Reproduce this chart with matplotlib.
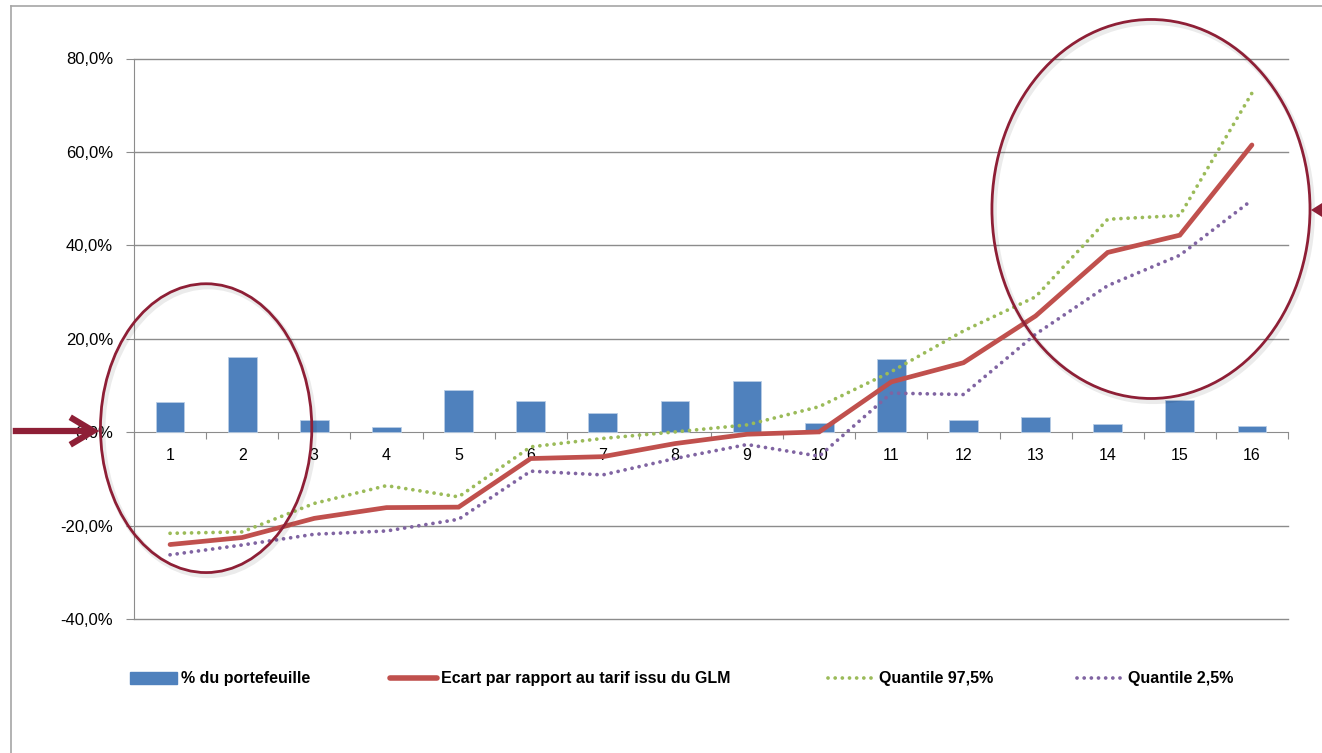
import numpy as np
import matplotlib.pyplot as plt
from matplotlib.patches import Ellipse, FancyArrowPatch, Polygon
from matplotlib.lines import Line2D
from matplotlib.ticker import FixedLocator, FuncFormatter

plt.rcParams["font.family"] = ["Liberation Sans", "DejaVu Sans"]

# --- data (values in %) ---
categories = list(range(1, 17))
portefeuille = [6.4, 16.1, 2.6, 1.2, 9.0, 6.7, 4.1, 6.8, 11.0, 2.1, 15.7, 2.6, 3.3, 1.8, 6.9, 1.3]
ecart_glm = [-24.0, -22.5, -18.4, -16.1, -16.0, -5.6, -5.2, -2.4, -0.4, 0.1, 10.8, 14.9, 24.9, 38.5, 42.2, 61.5]
quantile_975 = [-21.6, -21.3, -15.2, -11.4, -13.8, -3.1, -1.3, 0.1, 1.6, 5.5, 13.0, 21.7, 29.0, 45.6, 46.4, 72.6]
quantile_025 = [-26.2, -24.1, -21.8, -21.1, -18.6, -8.3, -9.1, -5.6, -2.6, -5.1, 8.4, 8.1, 21.0, 31.4, 37.9, 49.7]
y_ticks = [-40, -20, 0, 20, 40, 60, 80]

legend_labels = ["% du portefeuille", "Ecart par rapport au tarif issu du GLM",
                 "Quantile 97,5%", "Quantile 2,5%"]

BLUE = "#4F81BD"
RED = "#C0504D"
GREEN = "#9BBB59"
PURPLE = "#8064A2"
GRID = "#8C8C8C"
MARK = "#8E1F36"

W, H = 1322, 753
fig = plt.figure(figsize=(W / 100, H / 100), dpi=100)
ax = fig.add_axes([134 / W, (H - 619.3) / H, (1288 - 134) / W, (619.3 - 58.5) / H])

x = np.array(categories)
ax.bar(x, portefeuille, width=0.4, color=BLUE, edgecolor="#B9CDE5", linewidth=0.6, zorder=2)

dot = (0, (0.01, 1.9))
ax.plot(x, quantile_975, color=GREEN, lw=2.7, linestyle=dot, dash_capstyle="round", zorder=3)
ax.plot(x, quantile_025, color=PURPLE, lw=2.7, linestyle=dot, dash_capstyle="round", zorder=3)
ax.plot(x, ecart_glm, color=RED, lw=3.4, solid_joinstyle="miter", solid_capstyle="round", zorder=4)

ax.set_xlim(0.5, 16.5)
ax.set_ylim(-40, 80)

# horizontal gridlines
for v in y_ticks:
    if v != 0:
        ax.axhline(v, color=GRID, lw=1.0, zorder=1, clip_on=False)

for side in ("top", "right"):
    ax.spines[side].set_visible(False)
ax.spines["left"].set_color(GRID)
ax.spines["bottom"].set_position(("data", 0))
ax.spines["bottom"].set_color(GRID)
ax.spines["bottom"].set_zorder(1)

ax.yaxis.set_major_locator(FixedLocator(y_ticks))
ax.yaxis.set_major_formatter(FuncFormatter(lambda v, p: f"{v:.1f}%".replace(".", ",")))
ax.tick_params(axis="y", length=6, color=GRID, pad=9, labelsize=12, labelcolor="#000000")

# category boundaries as ticks, category numbers as labels
ax.xaxis.set_major_locator(FixedLocator(np.arange(0.5, 17, 1.0)))
ax.xaxis.set_major_formatter(FuncFormatter(lambda v, p: ""))
ax.xaxis.set_minor_locator(FixedLocator(x))
ax.xaxis.set_minor_formatter(FuncFormatter(lambda v, p: f"{int(v)}"))
ax.tick_params(axis="x", which="major", length=5, color=GRID, direction="out")
ax.tick_params(axis="x", which="minor", length=0, pad=11, labelsize=11.5)

# highlighted zones
for cx, cy, w, h in [(1.5, 0.9, 2.93, 61.8), (14.6, 47.8, 4.41, 81.1)]:
    ax.add_patch(Ellipse((cx + 0.03, cy - 0.6), w, h, fill=False, edgecolor="#000000",
                         lw=4, alpha=0.08, clip_on=False, zorder=5))
    ax.add_patch(Ellipse((cx, cy), w, h, fill=False, edgecolor=MARK, lw=2.0,
                         clip_on=False, zorder=6))

# arrows pointing at the zero line and the top zone (pixel positions, inches = px / 100)
px = fig.dpi_scale_trans
fig.patches.append(FancyArrowPatch((10 / 100, (H - 431) / 100), (102 / 100, (H - 431) / 100),
                                   transform=px, arrowstyle="->,head_length=7.5,head_width=4.5",
                                   color=MARK, lw=4.5, mutation_scale=2.2,
                                   capstyle="butt", joinstyle="miter", zorder=7))
fig.patches.append(Polygon([(13.11, (H - 210) / 100), (13.30, (H - 198) / 100),
                            (13.30, (H - 222) / 100)], closed=True, transform=px,
                           facecolor=MARK, edgecolor="none", zorder=7))

# outer frame
fig.add_artist(Line2D([11 / W, 1], [(H - 6) / H] * 2, color="#A6A6A6", lw=1.2))
fig.add_artist(Line2D([11 / W] * 2, [0, (H - 6) / H], color="#A6A6A6", lw=1.2))

# legend, one entry per position
handles = [
    plt.Rectangle((0, 0), 1, 1, color=BLUE),
    Line2D([], [], color=RED, lw=4, solid_capstyle="round"),
    Line2D([], [], color=GREEN, lw=2.7, linestyle=dot, dash_capstyle="round"),
    Line2D([], [], color=PURPLE, lw=2.7, linestyle=dot, dash_capstyle="round"),
]
legend_x = [124, 384, 822, 1071]
for hnd, lab, lx in zip(handles, legend_labels, legend_x):
    fig.legend([hnd], [lab], loc="center left", bbox_to_anchor=(lx / W, (H - 679) / H),
               frameon=False, handlelength=2.9, handletextpad=0.25, borderaxespad=0,
               prop={"weight": "bold", "size": 11.5})

fig.savefig("out.png", dpi=100)
